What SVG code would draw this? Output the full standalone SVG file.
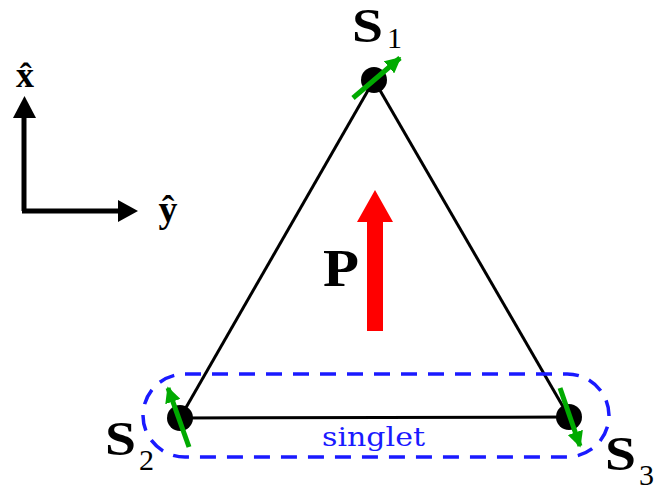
<svg xmlns="http://www.w3.org/2000/svg" width="654" height="491" viewBox="0 0 654 491">
<style>
.lbl{font-family:"Liberation Serif","DejaVu Serif",serif;font-weight:bold;fill:#000}
.sub{font-family:"Liberation Serif","DejaVu Serif",serif;fill:#000}
.sg{font-family:"DejaVu Serif",serif;fill:#1a1aff}
.edge{stroke:#000;stroke-width:3;fill:none}
.spin{stroke:#00aa00;stroke-width:5;fill:none}
.site{fill:#000}
</style>
<defs>
<marker id="gh" viewBox="0 0 10 10" refX="9" refY="5" markerWidth="3.2" markerHeight="3.2" markerUnits="strokeWidth" orient="auto">
<path d="M0,0 L10,5 L0,10 z" fill="#00aa00"/>
</marker>
</defs>
<g id="axes">
<line x1="24" y1="211" x2="24" y2="116" stroke="#000" stroke-width="5"/>
<polygon points="13,118 36,118 24.5,96" fill="#000"/>
<line x1="22" y1="211" x2="120" y2="211" stroke="#000" stroke-width="5"/>
<polygon points="118,200 118,222 138,211" fill="#000"/>
<text class="lbl" x="25" y="87" font-size="36" text-anchor="middle">x̂</text>
<text class="lbl" x="168" y="222" font-size="38" text-anchor="middle">ŷ</text>
</g>
<g id="connectors">
<line class="edge" x1="374" y1="80" x2="180" y2="418"/>
<line class="edge" x1="374" y1="80" x2="569" y2="417"/>
<line class="edge" x1="180" y1="418" x2="569" y2="417"/>
</g>
<g id="singlet">
<rect x="143" y="374" width="466" height="83" rx="42" ry="42" fill="none" stroke="#1a1aff" stroke-width="3.5" stroke-dasharray="16,11"/>
<text class="sg" x="322" y="446" font-size="26" textLength="103" lengthAdjust="spacingAndGlyphs">singlet</text>
</g>
<g id="S1">
<circle class="site" cx="374" cy="80" r="13"/>
<line class="spin" x1="353" y1="98" x2="400" y2="58" marker-end="url(#gh)"/>
<text class="lbl" x="352" y="42" font-size="48" textLength="31" lengthAdjust="spacingAndGlyphs">S</text>
<text class="sub" x="387" y="48" font-size="30">1</text>
</g>
<g id="S2">
<circle class="site" cx="180" cy="418" r="13"/>
<line class="spin" x1="189" y1="447" x2="168" y2="388" marker-end="url(#gh)"/>
<text class="lbl" x="105" y="455" font-size="48" textLength="31" lengthAdjust="spacingAndGlyphs">S</text>
<text class="sub" x="139" y="470" font-size="30">2</text>
</g>
<g id="S3">
<circle class="site" cx="569" cy="417" r="13"/>
<line class="spin" x1="560" y1="388" x2="580" y2="446" marker-end="url(#gh)"/>
<text class="lbl" x="605" y="470" font-size="48" textLength="31" lengthAdjust="spacingAndGlyphs">S</text>
<text class="sub" x="639" y="485" font-size="30">3</text>
</g>
<g id="P">
<rect x="367" y="220" width="16" height="111" fill="#ff0000"/>
<polygon points="357,222 393,222 375,190" fill="#ff0000"/>
<text class="lbl" x="323" y="286" font-size="52" textLength="36" lengthAdjust="spacingAndGlyphs">P</text>
</g>
</svg>
